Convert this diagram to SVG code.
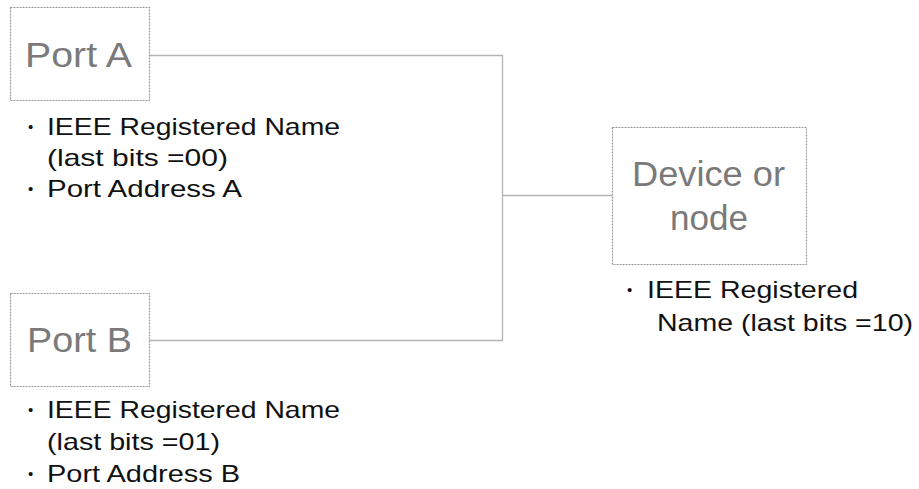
<svg xmlns="http://www.w3.org/2000/svg" width="919" height="489" viewBox="0 0 919 489">
<style>
.box{fill:#fff;stroke:#9a9a9a;stroke-width:1.2;stroke-dasharray:2,1}
.title{font-family:"Liberation Sans",Arial,sans-serif;fill:#7a7a7a;font-size:35px}
.txt{font-family:"Liberation Sans",Arial,sans-serif;fill:#111;font-size:24px}
.bul{font-family:"Liberation Sans",Arial,sans-serif;fill:#111;font-size:15px}
.conn{fill:none;stroke:#b4b4b4;stroke-width:1.3}
</style>
<rect width="919" height="489" fill="#fff"/>
<g id="connectors">
<path class="conn" d="M149,55.5 H502.5 V340.5 H149"/>
<path class="conn" d="M502.5,195.5 H612"/>
</g>
<g id="portA">
<rect class="box" x="10.5" y="7.5" width="139" height="93"/>
<text class="title" x="25" y="67" textLength="107" lengthAdjust="spacingAndGlyphs">Port A</text>
<text class="bul" x="28" y="132">•</text>
<text class="txt" x="47" y="135" textLength="293" lengthAdjust="spacingAndGlyphs">IEEE Registered Name</text>
<text class="txt" x="47" y="166" textLength="181" lengthAdjust="spacingAndGlyphs">(last bits =00)</text>
<text class="bul" x="28" y="194">•</text>
<text class="txt" x="47" y="197" textLength="195" lengthAdjust="spacingAndGlyphs">Port Address A</text>
</g>
<g id="portB">
<rect class="box" x="10.5" y="293.5" width="139" height="93"/>
<text class="title" x="27" y="352" textLength="105" lengthAdjust="spacingAndGlyphs">Port B</text>
<text class="bul" x="28" y="415">•</text>
<text class="txt" x="47" y="418" textLength="293" lengthAdjust="spacingAndGlyphs">IEEE Registered Name</text>
<text class="txt" x="47" y="450" textLength="173" lengthAdjust="spacingAndGlyphs">(last bits =01)</text>
<text class="bul" x="28" y="479">•</text>
<text class="txt" x="47" y="482" textLength="193" lengthAdjust="spacingAndGlyphs">Port Address B</text>
</g>
<g id="device">
<rect class="box" x="612.5" y="127.5" width="194" height="137"/>
<text class="title" x="632" y="186" textLength="153" lengthAdjust="spacingAndGlyphs">Device or</text>
<text class="title" x="670" y="230" textLength="78" lengthAdjust="spacingAndGlyphs">node</text>
<text class="bul" x="627" y="295">•</text>
<text class="txt" x="647" y="298" textLength="211" lengthAdjust="spacingAndGlyphs">IEEE Registered</text>
<text class="txt" x="657" y="331" textLength="256" lengthAdjust="spacingAndGlyphs">Name (last bits =10)</text>
</g>
</svg>
